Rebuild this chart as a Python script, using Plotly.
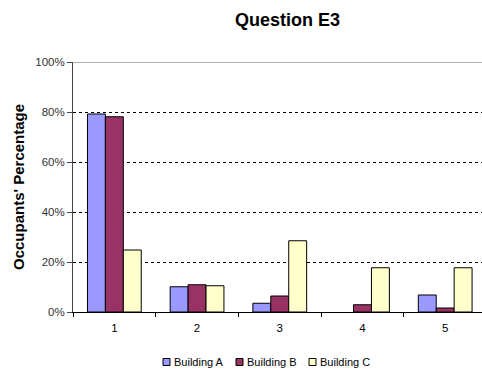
import plotly.graph_objects as go

categories = ["1", "2", "3", "4", "5"]
building_a = [79.2, 10.1, 3.5, 0.0, 6.8]
building_b = [78.1, 10.9, 6.4, 2.9, 1.6]
building_c = [24.8, 10.5, 28.5, 17.7, 17.7]
series_names = ["Building A", "Building B", "Building C"]
series_colors = ["#9999FF", "#993366", "#FFFFCC"]
y_ticks = [0, 20, 40, 60, 80, 100]

W, H = 482, 369
L, R, T, B = 73, 0, 62, 57
font_family = "Liberation Sans, Arial, sans-serif"

fig = go.Figure()
for name, vals, col in zip(series_names, [building_a, building_b, building_c], series_colors):
    fig.add_trace(go.Bar(
        x=categories, y=vals, name=name, showlegend=False,
        marker=dict(color=col,
                    line=dict(color="#000000", width=[1 if v > 0 else 0 for v in vals])),
    ))

fig.update_layout(
    width=W, height=H,
    margin=dict(l=L, r=R, t=T, b=B, autoexpand=False),
    paper_bgcolor="white", plot_bgcolor="white",
    barmode="group", bargap=0.35, bargroupgap=0,
    font=dict(family=font_family, size=11, color="#000000"),
    title=dict(text="<b>Question E3</b>", x=287.5 / W, xanchor="center",
               y=1 - 20 / H, yanchor="middle", font=dict(size=18, family=font_family)),
    showlegend=False,
    xaxis=dict(
        type="category", range=[-0.5, 4.445],
        showline=True, linecolor="#000000", linewidth=1,
        ticks="outside", tickson="boundaries", ticklen=4, tickcolor="#000000",
        showgrid=False, tickfont=dict(size=11.5), ticklabelstandoff=5,
    ),
    yaxis=dict(
        range=[0, 100], tickvals=y_ticks, ticktext=[f"{v}%" for v in y_ticks],
        showline=True, linecolor="#444444", linewidth=1,
        ticks="outside", ticklen=5, tickcolor="#444444",
        showgrid=True, gridcolor="#000000", gridwidth=1, griddash="3px,3px",
        zeroline=False, tickfont=dict(size=11.5, color="#333333"),
    ),
)
fig.add_shape(type="line", xref="paper", yref="y", x0=0, x1=1, y0=100, y1=100,
              line=dict(color="#999999", width=1.5))

# y-axis title
fig.add_annotation(text="<b>Occupants' Percentage</b>", textangle=-90,
                   xref="paper", yref="paper",
                   x=(18 - L) / (W - L - R), y=(H - B - 187) / (H - T - B),
                   xanchor="center", yanchor="middle", showarrow=False,
                   font=dict(size=15, family=font_family, color="#000000"))

# legend (drawn manually to match compact Excel-style legend)
pw, ph = W - L - R, H - T - B
leg_x0, leg_step, leg_y = 163, 73, 362
for i, (name, col) in enumerate(zip(series_names, series_colors)):
    sx = leg_x0 + i * leg_step
    fig.add_shape(type="rect", xref="paper", yref="paper",
                  x0=(sx - L) / pw, x1=(sx + 7 - L) / pw,
                  y0=(H - B - (leg_y - 3.5)) / ph, y1=(H - B - (leg_y + 3.5)) / ph,
                  fillcolor=col, line=dict(color="#000000", width=1))
    fig.add_annotation(text=name, xref="paper", yref="paper",
                       x=(sx + 9 - L) / pw, y=(H - B - leg_y) / ph,
                       xanchor="left", yanchor="middle", showarrow=False,
                       font=dict(size=11, family=font_family, color="#000000"))

fig.write_html("out.html")
